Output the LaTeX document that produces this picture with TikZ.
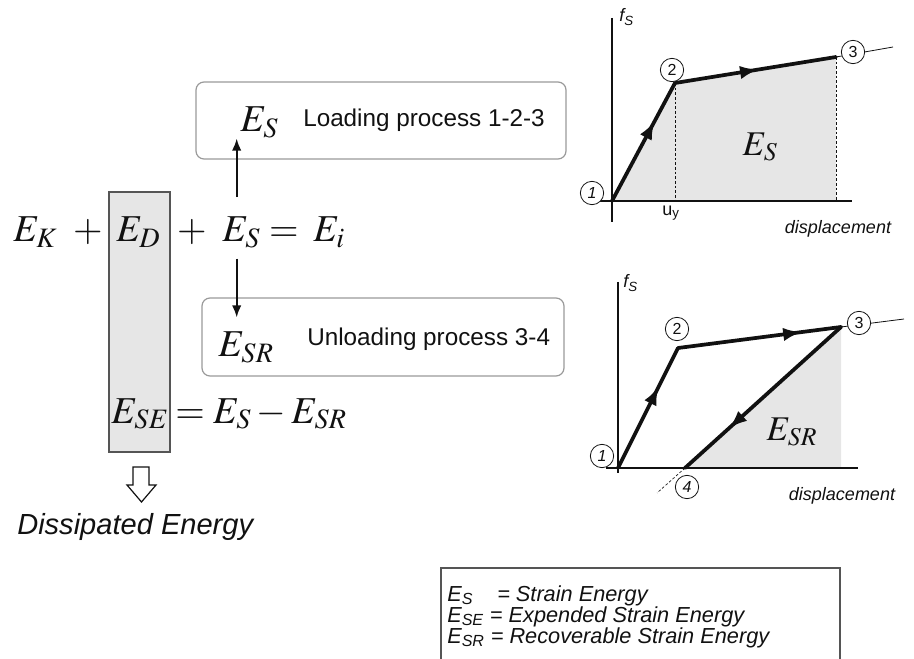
\documentclass[tikz,border=0pt]{standalone}
\usepackage{mathptmx}
\usepackage[no-math]{fontspec}
\setmainfont{Liberation Sans}
\usepackage{tikz}
\usetikzlibrary{arrows.meta,positioning,decorations.markings}
\definecolor{ink}{HTML}{111111}
\definecolor{frame}{HTML}{9A9A9A}
\definecolor{areagray}{HTML}{E6E6E6}
\definecolor{edge}{HTML}{555555}
\tikzset{
  >=Latex,
  eqn/.style={anchor=base west,inner sep=0pt,text=ink,font=\fontsize{28.5}{32}\selectfont},
  gsym/.style={inner sep=0pt,text=ink,font=\fontsize{26}{30}\selectfont},
  procbox/.style={draw=frame,line width=0.9pt,rounded corners=6pt},
  proctext/.style={anchor=base west,inner sep=0pt,text=ink,font=\fontsize{18.2}{21}\selectfont},
  arr/.style={->,line width=1.3pt,draw=ink,>={Latex[length=9pt,width=7pt]}},
  axis/.style={line width=1.1pt,draw=ink},
  curve/.style={line width=2.8pt,draw=ink,line cap=round,line join=round},
  thinline/.style={line width=0.6pt,draw=ink},
  guide/.style={line width=0.5pt,draw=ink,dash pattern=on 2pt off 1.5pt},
  numcirc/.style={circle,draw=ink,line width=0.6pt,fill=white,minimum size=17.5pt,inner sep=0pt,text=ink,font=\fontsize{12}{14}\selectfont},
  midarrow/.style={postaction={decorate},decoration={markings,mark=at position #1 with {\arrow{Latex[length=14pt,width=10pt]}}}},
  axlabel/.style={inner sep=0pt,text=ink,font=\fontsize{13.5}{16}\selectfont\itshape},
  edfill/.style={fill=areagray,draw=edge,line width=0.8pt},
  hollow/.style={fill=white,draw=ink,line width=0.9pt,line join=miter},
  legend/.style={anchor=base west,inner sep=0pt,text=ink,font=\fontsize{16.3}{18}\selectfont\itshape}
}

\begin{document}
\begin{tikzpicture}[x=0.75pt,y=-0.75pt]
  \useasboundingbox (0,0) rectangle (914,659);

  % energy balance
  \draw[edfill] (109,192) rectangle (170,452);
  \node[eqn] (EK) at (13,242) {$E_K$};
  \node[eqn,anchor=base] (plusK) at (88,242) {$+$};
  \node[eqn] (ED) at (116,242) {$E_D$};
  \node[eqn,anchor=base] (plusD) at (192,242) {$+$};
  \node[eqn] (ES) at (222,242) {$E_S$};
  \node[eqn,anchor=base] (eqI) at (284,242) {$=$};
  \node[eqn] (Ei) at (313,242) {$E_i$};

  % loading / unloading boxes
  \node[procbox,minimum width=277.5pt,minimum height=57.75pt] (loadBox) at (381,120.5) {};
  \node[eqn] (EsLoad) at (240,132) {$E_S$};
  \node[proctext] (loadTxt) at (303,127) {Loading process 1-2-3};
  \node[procbox,minimum width=271.5pt,minimum height=58.5pt] (unloadBox) at (383,337) {};
  \node[eqn] (EsrUnload) at (218,357) {$E_{SR}$};
  \node[proctext] (unloadTxt) at (307,345) {Unloading process 3-4};

  \draw[arr,shorten <=15pt] ([xshift=-3.5pt]ES.north) -- ([xshift=-3.5pt]ES.north |- EsLoad.south);
  \draw[arr,shorten <=7.5pt,shorten >=11pt] ([xshift=-3.5pt]ES.south) -- ([xshift=-3.5pt]ES.south |- EsrUnload.north);

  \node[eqn] (ESE) at (111,423) {$E_{SE}$};
  \node[eqn] (eqSE) at (175,423) {$=E_S-E_{SR}$};

  \draw[hollow] (133,467) -- (149,467) -- (149,485) -- (156,485) -- (141.5,502) -- (127,485) -- (133,485) -- cycle;
  \node[anchor=base west,inner sep=0pt,text=ink,font=\fontsize{21.8}{24}\selectfont\itshape] (dissip) at (17,534) {Dissipated Energy};

  % upper plot: loading 1-2-3
  \coordinate (a1) at (612,201);
  \coordinate (a2) at (675,83);
  \coordinate (a3) at (836,57);
  \coordinate (aEnd) at (893,47);
  \coordinate (aYtop) at (612,18);
  \coordinate (aYbot) at (612,222);
  \coordinate (aXl) at (598,201);
  \coordinate (aXr) at (852,201);
  \fill[areagray] (a1) -- (a2) -- (a3) -- (a3 |- a1) -- cycle;
  \draw[guide] (a2) -- (a2 |- a1);
  \draw[guide] (a3) -- (a3 |- a1);
  \draw[axis] (aYtop) -- (aYbot);
  \draw[axis] (aXl) -- (aXr);
  \draw[thinline] (a3) -- (aEnd);
  \draw[curve,midarrow=0.68] (a1) -- (a2);
  \draw[curve,midarrow=0.52] (a2) -- (a3);
  \node[numcirc] (a1n) at (592,193) {\textit{1}};
  \node[numcirc] (a2n) at (672,70) {2};
  \node[numcirc] (a3n) at (853,52) {3};
  \node[axlabel,anchor=west] (aF) at (619,17) {f\textsubscript{S}};
  \node[axlabel,font=\fontsize{13.5}{16}\selectfont] (aUy) at (671,213) {u\textsubscript{y}};
  \node[axlabel] (aDisp) at (838,229) {displacement};
  \node[gsym] (aEs) at (760,147) {$E_S$};

  % lower plot: unloading 3-4
  \coordinate (b1) at (618,468);
  \coordinate (b2) at (678,348);
  \coordinate (b3) at (841,327);
  \coordinate (b4) at (685,468);
  \coordinate (bEnd) at (904,319);
  \coordinate (bTail) at (657,493);
  \coordinate (bYtop) at (618,282);
  \coordinate (bYbot) at (618,473);
  \coordinate (bXl) at (606,468);
  \coordinate (bXr) at (858,468);
  \fill[areagray] (b4) -- (b3) -- (b3 |- b4) -- cycle;
  \draw[axis] (bYtop) -- (bYbot);
  \draw[axis] (bXl) -- (bXr);
  \draw[thinline] (b3) -- (bEnd);
  \draw[guide] (b4) -- (bTail);
  \draw[curve,midarrow=0.68] (b1) -- (b2);
  \draw[curve,midarrow=0.76] (b2) -- (b3);
  \draw[curve,midarrow=0.72] (b3) -- (b4);
  \node[numcirc] (b1n) at (602,456) {\textit{1}};
  \node[numcirc] (b2n) at (677,329) {2};
  \node[numcirc] (b3n) at (859,323) {3};
  \node[numcirc] (b4n) at (687,487) {\textit{4}};
  \node[axlabel,anchor=west] (bF) at (623,283) {f\textsubscript{S}};
  \node[axlabel] (bDisp) at (842,496) {displacement};
  \node[gsym] (bEsr) at (792,432) {$E_{SR}$};

  % legend
  \draw[line width=0.8pt,draw=edge] (441,659) -- (441,568) -- (840,568) -- (840,659);
  \node[legend] (lgS) at (447,601) {\makebox[2.3em][l]{E\textsubscript{S}}= Strain Energy};
  \node[legend] (lgSE) at (447,622) {E\textsubscript{SE} = Expended Strain Energy};
  \node[legend] (lgSR) at (447,643) {E\textsubscript{SR} = Recoverable Strain Energy};
\end{tikzpicture}
\end{document}
